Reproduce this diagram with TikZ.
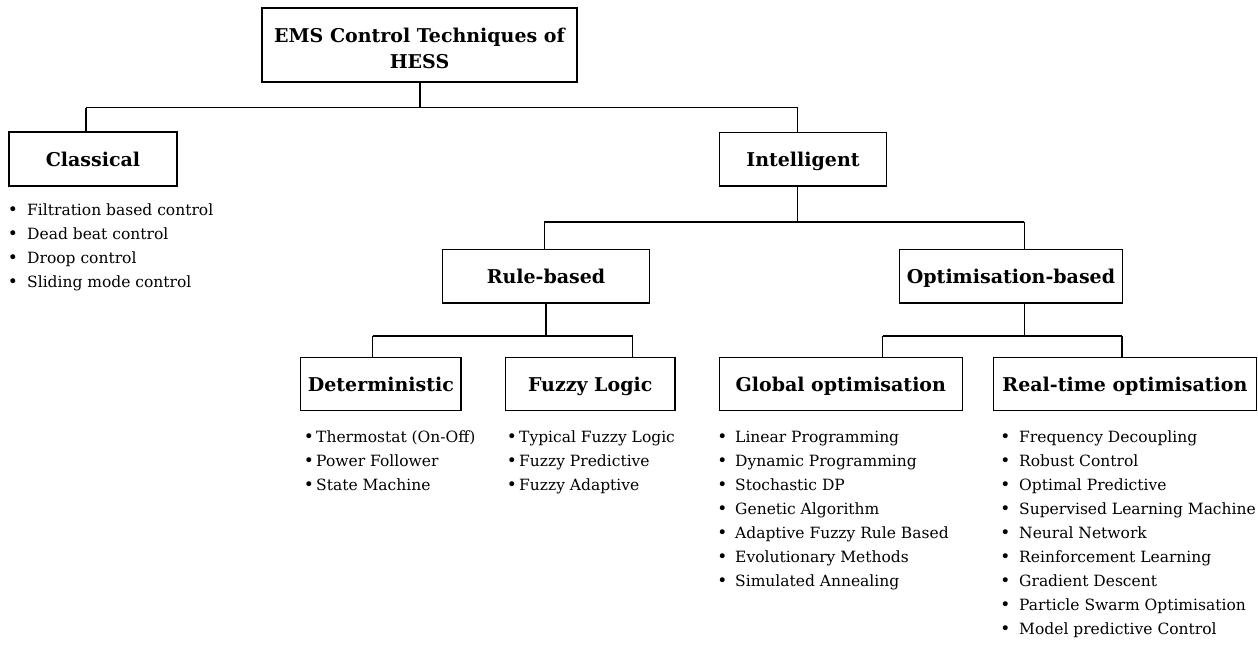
\documentclass[tikz,border=0pt]{standalone}
\usepackage{fontspec}
\setmainfont{DejaVu Serif}
\begin{document}
\begin{tikzpicture}[x=1pt,y=-1pt,
  box/.style={draw, line width=1.3pt, inner sep=0pt, text height=15pt, text depth=0pt,
    font=\bfseries\fontsize{19}{26}\selectfont},
  conn/.style={line width=1.3pt},
  item/.style={anchor=base west, inner sep=0pt, font=\fontsize{15.5}{24}\selectfont},
  bul/.style={anchor=base, inner sep=0pt, font=\fontsize{17}{24}\selectfont}]
\useasboundingbox (0,0) rectangle (1258,646);
% boxes
\node[box, minimum width=315, minimum height=74, text height=15pt, text depth=21pt] (top) at (419.5,45)
  {\begin{tabular}[t]{@{}c@{}}EMS Control Techniques of\\HESS\end{tabular}};
\node[box, minimum width=168, minimum height=54] (cls) at (93,159) {Classical};
\node[box, minimum width=167.4, minimum height=53.7] (int) at (803,159.2) {Intelligent};
\node[box, minimum width=206.6, minimum height=53.7] (rule) at (546,276.2) {Rule-based};
\node[box, minimum width=223.4, minimum height=53.7] (opt) at (1011,276.2) {Optimisation-based};
\node[box, minimum width=160.3, minimum height=53] (det) at (380.9,384.2) {Deterministic};
\node[box, minimum width=169.7, minimum height=53] (fuz) at (590.2,384.2) {Fuzzy Logic};
\node[box, minimum width=243, minimum height=53] (glo) at (840.8,384.2) {Global optimisation};
\node[box, minimum width=263, minimum height=53] (rt) at (1124.9,384.2) {Real-time optimisation};
% junctions
\coordinate (j0) at (420,107.7);
\coordinate (j0l) at (86,107.7);
\coordinate (j0r) at (797.7,107.7);
\coordinate (j1) at (797.7,222);
\coordinate (j1l) at (544.3,222);
\coordinate (j1r) at (1024.3,222);
\coordinate (j2) at (546,336);
\coordinate (j2l) at (372.7,336);
\coordinate (j2r) at (632.7,336);
\coordinate (j3) at (1024.3,336);
\coordinate (j3l) at (882.5,336);
\coordinate (j3r) at (1122,336);
% connectors
\draw[conn] (top.south -| j0) -- (j0);
\draw[conn] (j0l) -- (j0r);
\draw[conn] (j0l) -- (j0l |- cls.north);
\draw[conn] (j0r) -- (j0r |- int.north);
\draw[conn] (int.south -| j1) -- (j1);
\draw[conn] (j1l) -- (j1r);
\draw[conn] (j1l) -- (j1l |- rule.north);
\draw[conn] (j1r) -- (j1r |- opt.north);
\draw[conn] (rule.south -| j2) -- (j2);
\draw[conn] (j2l) -- (j2r);
\draw[conn] (j2l) -- (j2l |- det.north);
\draw[conn] (j2r) -- (j2r |- fuz.north);
\draw[conn] (opt.south -| j3) -- (j3);
\draw[conn] (j3l) -- (j3r);
\draw[conn] (j3l) -- (j3l |- glo.north);
\draw[conn] (j3r) -- (j3r |- rt.north);
% lists
\foreach \t [count=\i] in {Filtration based control, Dead beat control, Droop control, Sliding mode control}{
  \node[item] (cl\i) at (27,{215+24*(\i-1)}) {\t};
  \node[bul] (clb\i) at (13,{215+24*(\i-1)}) {•};
}
\foreach \t [count=\i] in {Thermostat (On-Off), Power Follower, State Machine}{
  \node[item] (de\i) at (316,{442+24*(\i-1)}) {\t};
  \node[bul] (deb\i) at (309,{442+24*(\i-1)}) {•};
}
\foreach \t [count=\i] in {Typical Fuzzy Logic, Fuzzy Predictive, Fuzzy Adaptive}{
  \node[item] (fu\i) at (519,{442+24*(\i-1)}) {\t};
  \node[bul] (fub\i) at (512,{442+24*(\i-1)}) {•};
}
\foreach \t [count=\i] in {Linear Programming, Dynamic Programming, Stochastic DP, Genetic Algorithm, Adaptive Fuzzy Rule Based, Evolutionary Methods, Simulated Annealing}{
  \node[item] (gl\i) at (735,{442+24*(\i-1)}) {\t};
  \node[bul] (glb\i) at (722.5,{442+24*(\i-1)}) {•};
}
\foreach \t [count=\i] in {Frequency Decoupling, Robust Control, Optimal Predictive, Supervised Learning Machine, Neural Network, Reinforcement Learning, Gradient Descent, Particle Swarm Optimisation, Model predictive Control}{
  \node[item] (rt\i) at (1019,{442+24*(\i-1)}) {\t};
  \node[bul] (rtb\i) at (1005.5,{442+24*(\i-1)}) {•};
}
\end{tikzpicture}
\end{document}
